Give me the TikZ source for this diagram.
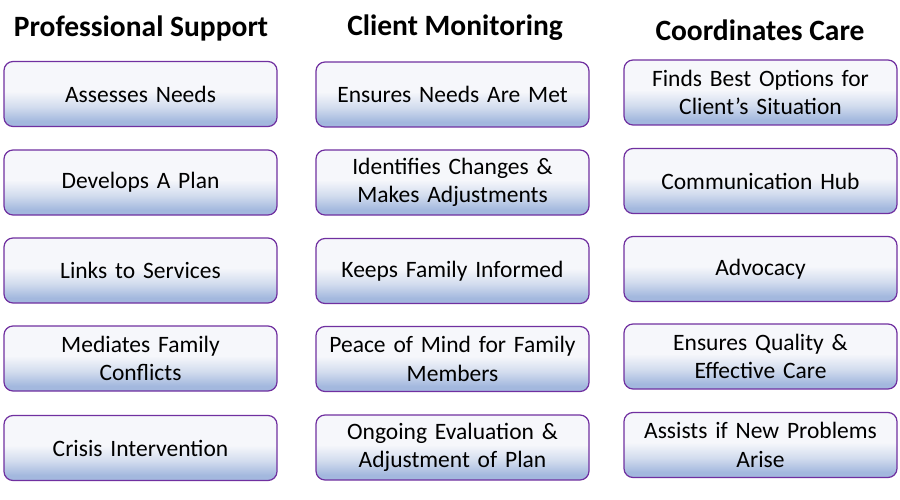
\documentclass[tikz,border=0pt]{standalone}
\usepackage{fontspec}
\setmainfont{Carlito}
\usepackage{tikz}
\definecolor{boxline}{HTML}{7030A0}
\definecolor{celltop}{HTML}{F6F7FB}
\definecolor{cellmid}{HTML}{D2DCEE}
\definecolor{cellbot}{HTML}{A3B8DE}
\pgfdeclareverticalshading{cellshade}{100bp}{color(0bp)=(cellbot); color(29bp)=(cellbot); color(40bp)=(cellmid); color(52bp)=(celltop); color(75bp)=(celltop); color(100bp)=(celltop)}
\tikzset{
  cell/.style={draw=boxline, line width=1.2pt, rounded corners=9pt, shading=cellshade,
    minimum width=273pt, minimum height=65pt, text width=268pt, align=center,
    font=\fontsize{23.5}{28.5}\selectfont, inner sep=0pt},
  head/.style={font=\fontsize{29.5}{34}\selectfont\bfseries}
}

\begin{document}
\begin{tikzpicture}[x=1pt,y=-1pt]
\useasboundingbox (0,0) rectangle (900,500);
\node[head](hps) at (141,28){Professional Support};
\node[head](hcm) at (455,28){Client Monitoring};
\node[head](hcc) at (760,30){Coordinates Care};
\node[cell](ps1) at (140.5,94){Assesses Needs};
\node[cell](ps2) at (140.5,182.5){Develops A Plan};
\node[cell](ps3) at (140.5,270.5){Links to Services};
\node[cell](ps4) at (140.5,358.5){Mediates Family\\Conflicts};
\node[cell](ps5) at (140.5,448){Crisis Intervention};
\node[cell](cm1) at (452.5,94.5){Ensures Needs Are Met};
\node[cell](cm2) at (452.5,182.5){Identifies Changes \&\\Makes Adjustments};
\node[cell](cm3) at (452.5,271){Keeps Family Informed};
\node[cell](cm4) at (452.5,359){Peace of Mind for Family\\Members};
\node[cell](cm5) at (452.5,447.5){Ongoing Evaluation \&\\Adjustment of Plan};
\node[cell](cc1) at (760.5,92.5){Finds Best Options for\\Client’s Situation};
\node[cell](cc2) at (760.5,181){Communication Hub};
\node[cell](cc3) at (760.5,269){Advocacy};
\node[cell](cc4) at (760.5,356.5){Ensures Quality \&\\Effective Care};
\node[cell](cc5) at (760.5,445){Assists if New Problems\\Arise};
\end{tikzpicture}
\end{document}
